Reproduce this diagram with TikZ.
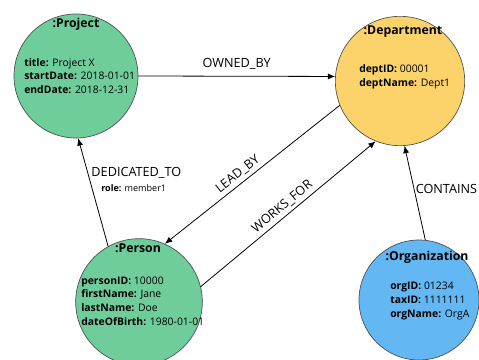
\documentclass[tikz,border=0pt]{standalone}
\usepackage{fontspec}
\setmainfont{Open Sans}
\usepackage{xcolor}
\usetikzlibrary{positioning, arrows.meta}

\definecolor{vertnoeud}{RGB}{110,205,155}
\definecolor{jaunenoeud}{RGB}{252,211,107}
\definecolor{bleunoeud}{RGB}{99,183,242}

\begin{document}
\begin{tikzpicture}[x=0.75pt, y=0.75pt,
    entite/.style={circle, draw=black!70, line width=0.5pt, inner sep=0pt},
    titre/.style={font=\fontsize{9.2}{11}\selectfont\bfseries},
    attrs/.style={font=\fontsize{7.8}{10.3}\selectfont, align=left, anchor=west, inner sep=0pt},
    lien/.style={->, >={Latex[length=5.5pt, width=4.5pt]}, line width=0.6pt},
    etiq/.style={font=\fontsize{9.5}{11}\selectfont, inner sep=2.5pt}]

    \useasboundingbox (0,0) rectangle (479,360);

    % Les entités
    \node[entite, fill=vertnoeud, minimum size=93pt] (proj) at (76,284) {};
    \node[entite, fill=jaunenoeud, minimum size=97pt] (dept) at (400,279) {};
    \node[entite, fill=vertnoeud, minimum size=95pt] (pers) at (139,58) {};
    \node[entite, fill=bleunoeud, minimum size=90pt] (org) at (419,60) {};

    % Titres et propriétés
    \node[titre] (proj-titre) at (76,336) {:Project};
    \node[attrs] (proj-attrs) at (24,284) {\textbf{title:} Project X\\ \textbf{startDate:} 2018-01-01\\ \textbf{endDate:} 2018-12-31};
    \node[titre] (dept-titre) at (403,328) {:Department};
    \node[attrs] (dept-attrs) at (359,283) {\textbf{deptID:} 00001\\ \textbf{deptName:} Dept1};
    \node[titre] (pers-titre) at (138,112) {:Person};
    \node[attrs] (pers-attrs) at (81,59) {\textbf{personID:} 10000\\ \textbf{firstName:} Jane\\ \textbf{lastName:} Doe\\ \textbf{dateOfBirth:} 1980-01-01};
    \node[titre] (org-titre) at (427,103) {:Organization};
    \node[attrs] (org-attrs) at (390,59) {\textbf{orgID:} 01234\\ \textbf{taxID:} 1111111\\ \textbf{orgName:} OrgA};

    % Les relations
    \draw[lien] (proj.0) -- node[etiq, above=2pt] (owned) {OWNED\_BY} (dept.176);
    \draw[lien] (pers.119) -- node[etiq, right, pos=0.68] (ded) {DEDICATED\_TO} (proj.-88);
    \node[attrs, font=\fontsize{6.8}{8}\selectfont] (ded-role) at (101,172) {\textbf{role:} member1};
    \draw[lien] (dept.202) -- node[etiq, above, sloped, pos=0.55] (lead) {LEAD\_BY} (pers.66);
    \draw[lien] (pers.14) -- node[etiq, above, sloped, pos=0.5] (works) {WORKS\_FOR} (dept.-112);
    \draw[lien] (org.84) -- node[etiq, right, pos=0.54, inner sep=1pt] (contains) {CONTAINS} (dept.-86);

\end{tikzpicture}
\end{document}
